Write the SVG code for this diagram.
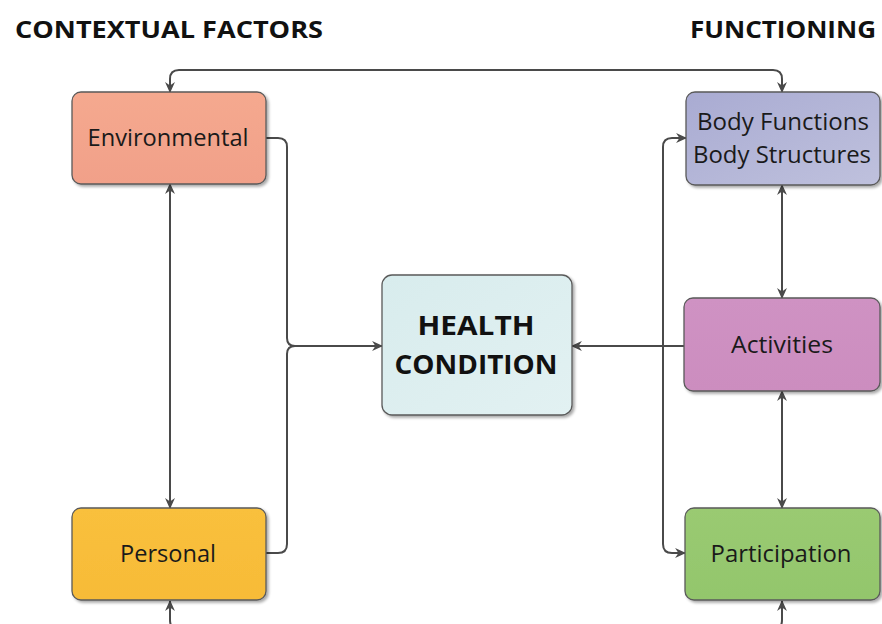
<svg xmlns="http://www.w3.org/2000/svg" width="882" height="624" viewBox="0 0 882 624">
<defs>
<style>
.box{stroke:#5a5a5a;stroke-width:1.3;filter:url(#sh)}
.lbl{font-family:"Open Sans","Noto Sans",sans-serif;font-size:23.5px;fill:#1a1a1a;text-anchor:middle}
.hc{font-family:"Open Sans","Noto Sans",sans-serif;font-size:27.5px;font-weight:bold;fill:#111;text-anchor:middle}
.title{font-family:"Open Sans","Noto Sans",sans-serif;font-size:24px;font-weight:bold;fill:#111}
.ln{fill:none;stroke:#4a4a4a;stroke-width:2}
</style>
<filter id="sh" x="-10%" y="-10%" width="125%" height="130%">
<feGaussianBlur in="SourceAlpha" stdDeviation="1.5"/>
<feOffset dx="2" dy="2" result="b"/>
<feComponentTransfer><feFuncA type="linear" slope="0.35"/></feComponentTransfer>
<feMerge><feMergeNode/><feMergeNode in="SourceGraphic"/></feMerge>
</filter>
<marker id="ar" viewBox="0 0 10 10" refX="9" refY="5" markerWidth="11" markerHeight="11" orient="auto-start-reverse" markerUnits="userSpaceOnUse">
<path d="M0,0.5 L10,5 L0,9.5 L3,5 Z" fill="#4a4a4a"/>
</marker>
<linearGradient id="gEnv" x1="0" y1="0" x2="0" y2="1"><stop offset="0" stop-color="#f5a98f"/><stop offset="1" stop-color="#f1a089"/></linearGradient>
<linearGradient id="gBody" x1="0" y1="0" x2="1" y2="1"><stop offset="0" stop-color="#a9abd2"/><stop offset="1" stop-color="#bfc1dd"/></linearGradient>
<linearGradient id="gHc" x1="0" y1="0" x2="1" y2="1"><stop offset="0" stop-color="#d8eced"/><stop offset="1" stop-color="#e2f1f2"/></linearGradient>
<linearGradient id="gAct" x1="0" y1="0" x2="0" y2="1"><stop offset="0" stop-color="#cf92c3"/><stop offset="1" stop-color="#cc8dbf"/></linearGradient>
<linearGradient id="gPer" x1="0" y1="0" x2="0" y2="1"><stop offset="0" stop-color="#f9c03c"/><stop offset="1" stop-color="#f7bb38"/></linearGradient>
<linearGradient id="gPar" x1="0" y1="0" x2="0" y2="1"><stop offset="0" stop-color="#9aca72"/><stop offset="1" stop-color="#93c66c"/></linearGradient>
</defs>
<rect width="882" height="624" fill="#fff"/>
<text class="title" x="15" y="38" textLength="308" lengthAdjust="spacingAndGlyphs">CONTEXTUAL FACTORS</text>
<text class="title" x="690" y="38" textLength="186" lengthAdjust="spacingAndGlyphs">FUNCTIONING</text>
<g id="connectors">
<path class="ln" d="M782,92 V79 Q782,70 773,70 H179 Q170,70 170,79 V92" marker-start="url(#ar)" marker-end="url(#ar)"/>
<path class="ln" d="M170,184 V508" marker-start="url(#ar)" marker-end="url(#ar)"/>
<path class="ln" d="M266,138 H278 Q287,138 287,147 V338 Q287,346 295,346 H382" marker-end="url(#ar)"/>
<path class="ln" d="M266,553 H278 Q287,553 287,544 V354 Q287,346 295,346"/>
<path class="ln" d="M684,346 H572" marker-end="url(#ar)"/>
<path class="ln" d="M686,138 H672 Q663,138 663,147 V544 Q663,553 672,553 H685" marker-start="url(#ar)" marker-end="url(#ar)"/>
<path class="ln" d="M782,185 V298" marker-start="url(#ar)" marker-end="url(#ar)"/>
<path class="ln" d="M782,391 V508" marker-start="url(#ar)" marker-end="url(#ar)"/>
<path class="ln" d="M170,601 V620 Q170,630 180,630 H772 Q782,630 782,620 V601" marker-start="url(#ar)" marker-end="url(#ar)"/>
</g>
<g id="environmental">
<rect class="box" x="72" y="92" width="194" height="92" rx="9" fill="url(#gEnv)"/>
<text class="lbl" x="168" y="146" textLength="161" lengthAdjust="spacingAndGlyphs">Environmental</text>
</g>
<g id="body">
<rect class="box" x="686" y="92" width="194" height="93" rx="9" fill="url(#gBody)"/>
<text class="lbl" x="783" y="130" textLength="172" lengthAdjust="spacingAndGlyphs">Body Functions</text>
<text class="lbl" x="782" y="163" textLength="178" lengthAdjust="spacingAndGlyphs">Body Structures</text>
</g>
<g id="health">
<rect class="box" x="382" y="275" width="190" height="140" rx="10" fill="url(#gHc)"/>
<text class="hc" x="476" y="335" textLength="117" lengthAdjust="spacingAndGlyphs">HEALTH</text>
<text class="hc" x="476" y="374" textLength="163" lengthAdjust="spacingAndGlyphs">CONDITION</text>
</g>
<g id="activities">
<rect class="box" x="684" y="298" width="196" height="93" rx="9" fill="url(#gAct)"/>
<text class="lbl" x="782" y="353" textLength="102" lengthAdjust="spacingAndGlyphs">Activities</text>
</g>
<g id="personal">
<rect class="box" x="72" y="508" width="194" height="92" rx="9" fill="url(#gPer)"/>
<text class="lbl" x="168" y="562" textLength="96" lengthAdjust="spacingAndGlyphs">Personal</text>
</g>
<g id="participation">
<rect class="box" x="685" y="508" width="195" height="92" rx="9" fill="url(#gPar)"/>
<text class="lbl" x="781" y="562" textLength="141" lengthAdjust="spacingAndGlyphs">Participation</text>
</g>
</svg>
